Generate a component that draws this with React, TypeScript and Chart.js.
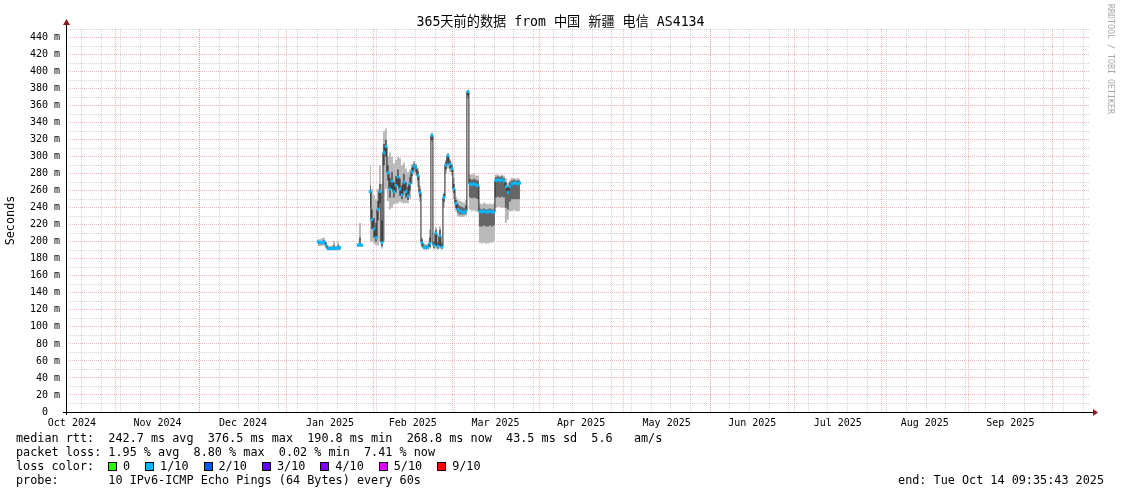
import React, { useEffect, useRef } from 'react';
import { Chart, registerables } from 'chart.js';

Chart.register(...registerables);

const MONO = '"DejaVu Sans Mono", "Noto Sans CJK SC", monospace';

const TITLE = '365天前的数据 from 中国 新疆 电信 AS4134';
const Y_TITLE = 'Seconds';
const WATERMARK = 'RRDTOOL / TOBI OETIKER';

// time frame (UTC), x axis expressed in days since START
const END_TIME = Date.UTC(2025, 9, 14, 9, 35, 43);
const SPAN_DAYS = 365;
const START_TIME = END_TIME - SPAN_DAYS * 864e5;
const DAY = 864e5;

const MONTH_LABELS = [
  'Oct 2024', 'Nov 2024', 'Dec 2024', 'Jan 2025', 'Feb 2025', 'Mar 2025',
  'Apr 2025', 'May 2025', 'Jun 2025', 'Jul 2025', 'Aug 2025', 'Sep 2025',
];
// month boundaries (year, monthIndex) from Oct 2024 to Oct 2025
const MONTH_STARTS: [number, number][] = [
  [2024, 9], [2024, 10], [2024, 11], [2025, 0], [2025, 1], [2025, 2], [2025, 3],
  [2025, 4], [2025, 5], [2025, 6], [2025, 7], [2025, 8], [2025, 9],
];
const FIRST_WEEK_LINE = Date.UTC(2024, 9, 20);

const Y_MAX = 450;
const Y_GRID_STEP = 10;
const Y_LABEL_VALUES = [0, 20, 40, 60, 80, 100, 120, 140, 160, 180, 200, 220, 240, 260, 280, 300, 320, 340, 360, 380, 400, 420, 440];

// consolidated samples
const SAMPLE_START = Date.UTC(2025, 0, 12, 5, 20);
const SAMPLE_STEP_HOURS = 17.1;

const MEDIAN = [
  200, 199, 199, 200, 196, 192, 192, 192, 193, 192, 193, 193,
  null, null, null, null, null, null, null, null,
  196, 197, 196, null, null, null,
  259, 226, 215, 205, 238, 259, 199, 305, 312, 281, 262, 271, 259, 266, 276, 262, 255, 270, 259, 254, 268,
  282, 289, 287, 278, 258, 199, 194, 193, 194, 198, 325, 196, 210, 195, 207, 194,
  252, 290, 301, 291, 286, 262, 245, 238, 236, 235, 234, 236, 376.5,
  268, 267, 268, 267, 266, 236, 235, 236, 235, 235, 236, 235, 235,
  272, 273, 272, 273, 271, 265, 258, 265, 268, 269, 269, 268, 269,
];
const SMOKE_MIN = [
  195, 195, 195, 196, 192, 190, 190, 190, 190, 190, 190, 190,
  null, null, null, null, null, null, null, null,
  194, 194, 194, null, null, null,
  200, 200, 198, 196, 196, 200, 192, 200, 262, 248, 238, 240, 244, 245, 245, 247, 246, 245, 246, 245, 250,
  268, 280, 278, 264, 247, 193, 191, 191, 191, 192, 318, 191, 192, 191, 192, 191,
  240, 280, 286, 282, 278, 250, 236, 230, 229, 229, 229, 231, 368,
  238, 236, 237, 236, 235, 199, 198, 199, 198, 198, 199, 199, 200,
  240, 241, 241, 240, 240, 222, 226, 236, 236, 237, 236, 236, 236,
];
const SMOKE_MAX = [
  203, 203, 204, 205, 201, 196, 195, 196, 201, 195, 200, 196,
  null, null, null, null, null, null, null, null,
  199, 222, 198, null, null, null,
  290, 262, 255, 250, 262, 290, 268, 330, 333, 300, 305, 300, 292, 296, 300, 298, 290, 293, 286, 282, 285,
  291, 295, 292, 286, 266, 205, 198, 197, 198, 214, 328, 201, 217, 200, 218, 200,
  258, 296, 304, 297, 293, 275, 253, 250, 248, 247, 246, 249, 378,
  279, 279, 280, 278, 278, 245, 244, 246, 245, 244, 245, 244, 245,
  279, 279, 278, 279, 278, 275, 269, 273, 275, 275, 274, 275, 274,
];
const CORE_MIN = [
  197, 197, 197, 198, 194, 191, 191, 191, 191, 191, 191, 191,
  null, null, null, null, null, null, null, null,
  195, 195, 195, null, null, null,
  240, 215, 205, 200, 225, 245, 195, 290, 300, 272, 252, 262, 252, 258, 266, 254, 250, 260, 252, 249, 260,
  277, 285, 282, 272, 253, 195, 192, 192, 192, 194, 320, 193, 195, 192, 195, 192,
  247, 285, 294, 286, 282, 257, 240, 234, 232, 232, 232, 233, 372,
  252, 251, 252, 251, 250, 218, 218, 219, 218, 218, 219, 218, 219,
  252, 253, 252, 253, 252, 240, 238, 247, 250, 250, 250, 250, 250,
];
const CORE_MAX = [
  201, 201, 201, 202, 199, 194, 194, 194, 196, 194, 196, 194,
  null, null, null, null, null, null, null, null,
  198, 205, 197, null, null, null,
  266, 238, 228, 222, 248, 268, 225, 315, 320, 290, 275, 282, 270, 277, 285, 274, 266, 280, 270, 265, 276,
  287, 292, 290, 283, 262, 203, 196, 195, 196, 205, 327, 199, 214, 198, 214, 197,
  256, 294, 303, 295, 290, 268, 249, 244, 242, 241, 240, 243, 377,
  274, 273, 274, 273, 272, 239, 238, 239, 238, 238, 239, 238, 238,
  276, 277, 276, 277, 275, 270, 264, 270, 272, 273, 272, 272, 272,
];

const LOSS_LABELS = ['0', '1/10', '2/10', '3/10', '4/10', '5/10', '9/10'];
const LOSS_COLORS = ['#26ff00', '#00b8ff', '#0059ff', '#5e00ff', '#7e00ff', '#dd00ff', '#ff0000'];
const MEDIAN_LOSS_BUCKET = 1;

const LEGEND_MEDIAN = 'median rtt:  242.7 ms avg  376.5 ms max  190.8 ms min  268.8 ms now  43.5 ms sd  5.6   am/s';
const LEGEND_LOSS = 'packet loss: 1.95 % avg  8.80 % max  0.02 % min  7.41 % now';
const LEGEND_COLOR = 'loss color:';
const LEGEND_PROBE = 'probe:       10 IPv6-ICMP Echo Pings (64 Bytes) every 60s';
const LEGEND_END = 'end: Tue Oct 14 09:35:43 2025';

const MINOR_GRID = 'rgba(160,160,160,0.45)';
const MAJOR_GRID = 'rgba(235,110,110,0.5)';
const ARROW = '#8b1c1c';
const SMOKE_OUTER = '#bababa';
const SMOKE_CORE = '#666666';

const toDay = (t: number) => (t - START_TIME) / DAY;
const sampleDay = (i: number) => toDay(SAMPLE_START) + (i * SAMPLE_STEP_HOURS) / 24;
const pts = (arr: (number | null)[]) => arr.map((v, i) => ({ x: sampleDay(i), y: v }));

function buildXGrid() {
  const ticks: { value: number; major?: boolean }[] = [];
  for (let t = FIRST_WEEK_LINE; t < END_TIME; t += 7 * DAY) ticks.push({ value: toDay(t) });
  MONTH_STARTS.forEach(([y, m]) => {
    const d = toDay(Date.UTC(y, m, 1));
    if (d > 0 && d < SPAN_DAYS) ticks.push({ value: d, major: true });
  });
  return ticks.sort((a, b) => a.value - b.value);
}

const decor = {
  id: 'decor',
  afterDraw(chart: any) {
    const { ctx, chartArea: ca } = chart;
    const x = chart.scales.x;
    ctx.save();
    // axes
    ctx.strokeStyle = '#000';
    ctx.lineWidth = 1;
    ctx.beginPath();
    ctx.moveTo(ca.left - 3, ca.bottom + 0.5);
    ctx.lineTo(ca.right + 3, ca.bottom + 0.5);
    ctx.moveTo(ca.left + 0.5, ca.bottom + 3);
    ctx.lineTo(ca.left + 0.5, ca.top - 4);
    ctx.stroke();
    ctx.fillStyle = ARROW;
    ctx.beginPath();
    ctx.moveTo(ca.right + 3, ca.bottom - 3);
    ctx.lineTo(ca.right + 8, ca.bottom + 0.5);
    ctx.lineTo(ca.right + 3, ca.bottom + 4);
    ctx.closePath();
    ctx.fill();
    ctx.beginPath();
    ctx.moveTo(ca.left - 3, ca.top - 4);
    ctx.lineTo(ca.left + 0.5, ca.top - 10);
    ctx.lineTo(ca.left + 4, ca.top - 4);
    ctx.closePath();
    ctx.fill();

    // month labels centred on each month
    ctx.fillStyle = '#000';
    ctx.font = `10px ${MONO}`;
    ctx.textAlign = 'center';
    ctx.textBaseline = 'alphabetic';
    MONTH_LABELS.forEach((lab, i) => {
      const a = Date.UTC(MONTH_STARTS[i][0], MONTH_STARTS[i][1], 1);
      const b = Date.UTC(MONTH_STARTS[i + 1][0], MONTH_STARTS[i + 1][1], 1);
      ctx.fillText(lab, x.getPixelForValue(toDay((a + b) / 2)), ca.bottom + 14);
    });

    // title
    ctx.font = `13.2px ${MONO}`;
    ctx.fillText(TITLE, chart.width / 2, 26);

    // y title
    ctx.save();
    ctx.font = `11.8px ${MONO}`;
    ctx.translate(14, (ca.top + ca.bottom) / 2);
    ctx.rotate(-Math.PI / 2);
    ctx.fillText(Y_TITLE, 0, 0);
    ctx.restore();

    // watermark
    ctx.save();
    ctx.font = `8.3px ${MONO}`;
    ctx.fillStyle = '#a8a8a8';
    ctx.textAlign = 'left';
    ctx.translate(1108, 4);
    ctx.rotate(Math.PI / 2);
    ctx.fillText(WATERMARK, 0, 0);
    ctx.restore();

    // legend
    ctx.font = `11.8px ${MONO}`;
    ctx.textAlign = 'left';
    ctx.fillStyle = '#000';
    const L = 16;
    ctx.fillText(LEGEND_MEDIAN, L, 442);
    ctx.fillText(LEGEND_LOSS, L, 456);
    ctx.fillText(LEGEND_COLOR, L, 470);
    ctx.fillText(LEGEND_PROBE, L, 484);
    let cx = 108;
    LOSS_LABELS.forEach((lab, i) => {
      ctx.fillStyle = LOSS_COLORS[i];
      ctx.fillRect(Math.round(cx), 462, 9, 9);
      ctx.strokeStyle = '#000';
      ctx.strokeRect(Math.round(cx) + 0.5, 462.5, 8, 8);
      cx += 15;
      ctx.fillStyle = '#000';
      ctx.fillText(lab, cx, 470);
      cx += ctx.measureText(lab).width + 15;
    });
    ctx.textAlign = 'right';
    ctx.fillText(LEGEND_END, 1104, 484);
    ctx.restore();
  },
};

export default function App() {
  const ref = useRef<HTMLCanvasElement>(null);
  useEffect(() => {
    if (!ref.current) return;
    const xGrid = buildXGrid();
    const yGrid: { value: number }[] = [];
    for (let v = 0; v <= Y_MAX; v += Y_GRID_STEP) yGrid.push({ value: v });
    const base = { pointRadius: 0, stepped: 'middle' as const, spanGaps: false, borderWidth: 0, borderColor: 'transparent' };
    const chart = new Chart(ref.current, {
      type: 'line',
      data: {
        datasets: [
          { ...base, label: 'smoke max', data: pts(SMOKE_MAX), fill: '+1', backgroundColor: SMOKE_OUTER, order: 4 },
          { ...base, label: 'smoke min', data: pts(SMOKE_MIN), fill: false, order: 4 },
          { ...base, label: 'core max', data: pts(CORE_MAX), fill: '+1', backgroundColor: SMOKE_CORE, order: 3 },
          { ...base, label: 'core min', data: pts(CORE_MIN), fill: false, order: 3 },
          { ...base, label: 'median', data: pts(MEDIAN), borderWidth: 1, borderColor: '#202020', fill: false, order: 1 },
          {
            label: 'loss', data: pts(MEDIAN), showLine: false, fill: false, order: 0,
            pointStyle: 'line', pointRadius: 1.2, pointBorderWidth: 3,
            pointBorderColor: LOSS_COLORS[MEDIAN_LOSS_BUCKET], pointBackgroundColor: LOSS_COLORS[MEDIAN_LOSS_BUCKET],
          },
        ] as any,
      },
      options: {
        animation: false,
        responsive: false,
        devicePixelRatio: 1,
        events: [],
        layout: { padding: { top: 29, right: 31, left: 0, bottom: 0 } },
        plugins: { legend: { display: false }, tooltip: { enabled: false } },
        scales: {
          x: {
            type: 'linear', min: 0, max: SPAN_DAYS,
            afterBuildTicks: (s: any) => { s.ticks = xGrid; },
            afterFit: (s: any) => { s.height = 82; },
            grid: { color: (c: any) => (c.tick && c.tick.major ? MAJOR_GRID : MINOR_GRID), drawTicks: false, lineWidth: 1 },
            border: { display: false, dash: [1, 1] },
            ticks: { display: false },
          },
          y: {
            type: 'linear', min: 0, max: Y_MAX,
            afterBuildTicks: (s: any) => { s.ticks = yGrid; },
            afterFit: (s: any) => { s.width = 66; },
            grid: { color: (c: any) => (c.tick && c.tick.value % 20 === 0 ? MAJOR_GRID : MINOR_GRID), drawTicks: false, lineWidth: 1 },
            border: { display: false, dash: [1, 1] },
            ticks: {
              autoSkip: false, padding: 6, color: '#000', font: { family: MONO, size: 10 },
              callback: (v: any) => (Y_LABEL_VALUES.includes(v) ? (v === 0 ? '0  ' : `${v} m`) : ''),
            },
          },
        },
      } as any,
      plugins: [decor],
    });
    return () => chart.destroy();
  }, []);
  return (
    <div style={{ position: 'fixed', left: 0, top: 0, width: 1121, height: 494, background: '#fff' }}>
      <canvas ref={ref} width={1121} height={494} style={{ display: 'block' }} />
    </div>
  );
}
